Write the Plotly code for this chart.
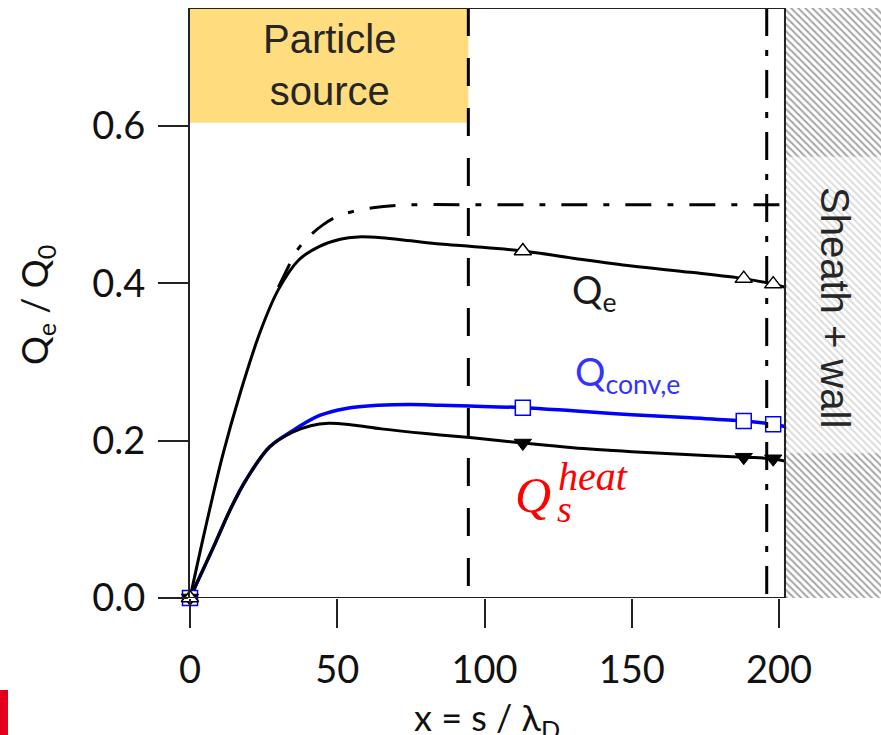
import plotly.graph_objects as go

# ---- data -------------------------------------------------------------
# total electron energy flux Q_e / Q_0
qe_x = [0, 5, 11, 17, 24, 30, 37, 44, 51, 57, 65, 75, 85, 95, 113, 130, 150, 170, 188, 198, 202]
qe_y = [0, 0.085, 0.18, 0.26, 0.34, 0.392, 0.43, 0.447, 0.456, 0.459, 0.458, 0.454, 0.45,
        0.447, 0.441, 0.432, 0.422, 0.414, 0.406, 0.399, 0.395]

# convective part Q_conv,e / Q_0
qconv_x = [0, 8, 14, 19, 27, 35, 44, 53, 64, 75, 85, 95, 113, 130, 150, 170, 188, 198, 202]
qconv_y = [0, 0.065, 0.115, 0.15, 0.192, 0.213, 0.232, 0.241, 0.245, 0.246, 0.245, 0.244,
           0.242, 0.238, 0.233, 0.229, 0.225, 0.221, 0.218]

# heat flux Q_s^heat / Q_0
qheat_x = [0, 8, 14, 19, 27, 35, 41, 47, 55, 65, 80, 95, 113, 130, 150, 170, 188, 198, 202]
qheat_y = [0, 0.065, 0.115, 0.15, 0.192, 0.211, 0.219, 0.222, 0.22, 0.215, 0.209, 0.204,
           0.197, 0.191, 0.186, 0.182, 0.179, 0.177, 0.174]

# injected energy (source integral)
src_x = [30, 33, 36, 40, 45, 50, 55, 62, 70, 80, 94.5, 202]
src_y = [0.395, 0.418, 0.44, 0.458, 0.474, 0.485, 0.491, 0.496, 0.499, 0.5, 0.5, 0.5]

# marker positions
mark_x = [0, 113, 188, 198]
qe_mark = [0, 0.441, 0.406, 0.399]
qconv_mark = [0, 0.242, 0.225, 0.221]
qheat_mark = [0, 0.197, 0.179, 0.177]

source_end = 94.5      # end of particle source region
sheath_edge = 195.8    # sheath entrance
wall = 202             # wall position
x_max = 234.6
y_max = 0.75

x_ticks = [0, 50, 100, 150, 200]
y_ticks = [0.0, 0.2, 0.4, 0.6]

W, H = 881, 735
ML, MT, MB = 190, 8, 137
PW, PH = W - ML, H - MT - MB

# pixel position -> paper (plot-area) fraction
def px(x):
    return (x - ML) / PW
def py(y):
    return (H - MB - y) / PH

fig = go.Figure()

# hatched sheath + wall region
fig.add_trace(go.Scatter(
    x=[wall, x_max, x_max, wall, wall], y=[0, 0, y_max, y_max, 0],
    fill="toself", mode="lines", line=dict(width=0),
    fillcolor="white",
    fillpattern=dict(shape="\\", fgcolor="#4a4a4a", bgcolor="white", size=5, solidity=0.4),
    hoverinfo="skip", showlegend=False))

# source integral (dash-dot)
fig.add_trace(go.Scatter(x=src_x, y=src_y, mode="lines", line_shape="spline",
                         line=dict(color="black", width=3, dash="26px,16px,6px,16px"),
                         showlegend=False))

fig.add_trace(go.Scatter(x=qconv_x, y=qconv_y, mode="lines", line_shape="spline",
                         line=dict(color="#0000ff", width=3.5), showlegend=False))
fig.add_trace(go.Scatter(x=qheat_x, y=qheat_y, mode="lines", line_shape="spline",
                         line=dict(color="black", width=3), showlegend=False))
fig.add_trace(go.Scatter(x=qe_x, y=qe_y, mode="lines", line_shape="spline",
                         line=dict(color="black", width=3), showlegend=False))

# markers
fig.add_trace(go.Scatter(x=mark_x, y=qconv_mark, mode="markers",
                         marker=dict(symbol="square", size=15, color="white",
                                     line=dict(color="#0000ff", width=1.5)),
                         showlegend=False, cliponaxis=False))
fig.add_trace(go.Scatter(x=mark_x, y=qheat_mark, mode="markers",
                         marker=dict(symbol="triangle-down", size=15, color="black",
                                     line=dict(color="black", width=1)),
                         showlegend=False, cliponaxis=False))
fig.add_trace(go.Scatter(x=mark_x, y=qe_mark, mode="markers",
                         marker=dict(symbol="triangle-up", size=15, color="white",
                                     line=dict(color="black", width=1.5)),
                         showlegend=False, cliponaxis=False))

shapes = [
    # particle source box
    dict(type="rect", xref="x", yref="y", x0=0, x1=source_end, y0=0.604, y1=y_max,
         fillcolor="#ffdd7e", line=dict(width=0), layer="below"),
    # lighter backing behind the sheath label
    dict(type="rect", xref="x", yref="y", x0=wall + 0.7, x1=x_max, y0=0.184, y1=0.561,
         fillcolor="rgba(255,255,255,0.6)", line=dict(width=0)),
    # source boundary (dashed)
    dict(type="line", xref="x", yref="y", x0=source_end, x1=source_end, y0=y_max, y1=0,
         line=dict(color="black", width=3, dash="28px,22px")),
    # sheath entrance (dash-dot)
    dict(type="line", xref="x", yref="y", x0=sheath_edge, x1=sheath_edge, y0=y_max, y1=0,
         line=dict(color="black", width=3, dash="28px,14px,6px,14px")),
    # frame
    dict(type="line", xref="x", yref="y", x0=0, x1=wall, y0=y_max, y1=y_max,
         line=dict(color="#222", width=2)),
    dict(type="line", xref="x", yref="y", x0=wall, x1=wall, y0=0, y1=y_max,
         line=dict(color="#222", width=2)),
    dict(type="line", xref="x", yref="y", x0=0, x1=wall, y0=0, y1=0,
         line=dict(color="#222", width=2)),
    # red mark in the corner
    dict(type="rect", xref="paper", yref="paper", x0=px(0), x1=px(8), y0=py(735), y1=py(690),
         fillcolor="#e2001a", line=dict(width=0)),
]


def label(text, x, y, family, size, color, angle=0):
    return dict(text=text, x=px(x), y=py(y), xref="paper", yref="paper",
                xanchor="center", yanchor="middle", textangle=angle, showarrow=False,
                font=dict(family=family, size=size, color=color))


annotations = [
    dict(text="Particle<br>source", x=source_end / 2, y=0.677, xref="x", yref="y",
         xanchor="center", yanchor="middle", showarrow=False,
         font=dict(family="Liberation Sans", size=40, color="#262626")),
    label("Sheath + wall", 835, 307, "Liberation Sans", 40, "#262626", angle=90),
    label("Q<sub>e</sub>", 594, 292, "Lato", 38, "#1a1a1a"),
    label("Q<sub>conv,e</sub>", 627, 374, "Lato", 38, "#3333ff"),
    label("<i>Q</i>", 533, 495, "Liberation Serif", 50, "#ff0000"),
    label("<i>heat</i>", 593, 476, "Liberation Serif", 40, "#ff0000"),
    label("<i>s</i>", 564, 509, "Liberation Serif", 38, "#ff0000"),
    label("Q<sub>e</sub> / Q<sub>0</sub>", 37, 305, "Lato", 36, "#111", angle=-90),
    label("x = s / λ<sub>D</sub>", 487, 719, "Lato", 36, "#111"),
]

fig.update_layout(
    width=W, height=H,
    margin=dict(l=ML, r=0, t=MT, b=MB),
    paper_bgcolor="white", plot_bgcolor="white",
    shapes=shapes, annotations=annotations,
    xaxis=dict(range=[0, x_max], tickvals=x_ticks, ticks="outside", ticklen=29,
               tickwidth=2, tickcolor="#222", showline=False, showgrid=False,
               zeroline=False, ticklabelstandoff=9,
               tickfont=dict(family="Lato", size=38, color="#111")),
    yaxis=dict(range=[0, y_max], tickvals=y_ticks, tickformat=".1f", ticks="outside",
               ticklen=30, tickwidth=2, tickcolor="#222", showline=True, linewidth=2,
               linecolor="#222", showgrid=False, zeroline=False, ticklabelstandoff=5,
               tickfont=dict(family="Lato", size=38, color="#111")),
)

fig.write_html("out.html")
